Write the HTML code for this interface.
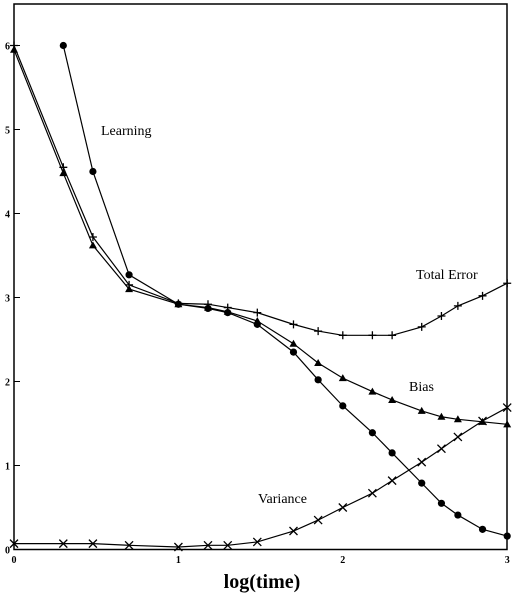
<!DOCTYPE html>
<html><head><meta charset="utf-8"><style>
body{margin:0;background:#fff;}
svg{display:block;font-family:"Liberation Serif",serif;}
</style></head><body>
<svg id="chart" width="529" height="594" viewBox="0 0 529 594"></svg>
<script>
const xs=[0,0.30,0.48,0.70,1.0,1.18,1.30,1.48,1.70,1.85,2.0,2.18,2.30,2.48,2.60,2.70,2.85,3.0];
const totalError=[6.0,4.55,3.72,3.15,2.93,2.92,2.88,2.82,2.68,2.60,2.55,2.55,2.55,2.65,2.78,2.90,3.02,3.17];
const bias=[5.95,4.48,3.62,3.10,2.92,2.88,2.83,2.72,2.45,2.22,2.04,1.88,1.78,1.65,1.58,1.55,1.52,1.49];
const learning=[null,6.0,4.5,3.27,2.92,2.87,2.82,2.68,2.35,2.02,1.71,1.39,1.15,0.79,0.55,0.41,0.24,0.16];
const variance=[0.07,0.07,0.07,0.05,0.03,0.05,0.05,0.09,0.22,0.35,0.50,0.67,0.82,1.04,1.20,1.34,1.53,1.69];
const xTicks=[0,1,2,3];
const yTicks=[0,1,2,3,4,5,6];
const NS="http://www.w3.org/2000/svg";
const svg=document.getElementById('chart');
const X=v=>14+v*164.4;
const Y=v=>549.5-v*84;
function mk(t,a,p){const e=document.createElementNS(NS,t);for(const k in a)e.setAttribute(k,a[k]);(p||svg).appendChild(e);return e;}
const frame=mk('rect',{x:14,y:4,width:493,height:545.5,fill:'none',stroke:'#000','stroke-width':1.5});


yTicks.forEach(v=>{
  const t=mk('line',{x1:14,x2:20,y1:Y(v),y2:Y(v),stroke:'#000','stroke-width':1});
  
  
  const l=mk('text',{x:10,y:Y(v)+4,'text-anchor':'end','font-size':10,'font-weight':'bold'});
  l.textContent=v;
  
  
});
xTicks.forEach(v=>{
  const l=mk('text',{x:X(v),y:563,'text-anchor':'middle','font-size':10,'font-weight':'bold'});
  l.textContent=v;
  
  
});
function series(vals,name,marker){
  const g=mk('g',{});
  
  
  const pts=[];vals.forEach((v,i)=>{if(v!=null)pts.push([X(xs[i]),Y(v)]);});
  mk('polyline',{points:pts.map(p=>p.join(',')).join(' '),fill:'none',stroke:'#000','stroke-width':1.2},g);
  pts.forEach(([x,y])=>{
    let m;
    if(marker==='plus'){m=mk('path',{d:`M${x-4},${y}H${x+4}M${x},${y-4}V${y+4}`,stroke:'#000','stroke-width':1.3},g);}
    else if(marker==='tri'){m=mk('path',{d:`M${x},${y-4}L${x+4},${y+3}L${x-4},${y+3}Z`,fill:'#000'},g);}
    else if(marker==='dot'){m=mk('circle',{cx:x,cy:y,r:3.6,fill:'#000'},g);}
    else {m=mk('path',{d:`M${x-4},${y-4}L${x+4},${y+4}M${x+4},${y-4}L${x-4},${y+4}`,stroke:'#000','stroke-width':1.3},g);}
    
    
  });
}
series(totalError,'total-error-series','plus');
series(bias,'bias-series','tri');
series(learning,'learning-series','dot');
series(variance,'variance-series','x');
function label(txt,x,y,name){const t=mk('text',{x:x,y:y,'font-size':14});t.textContent=txt;}
label('Learning',101,135,'learning-label');
label('Total Error',416,279,'total-error-label');
label('Bias',409,391,'bias-label');
label('Variance',258,503,'variance-label');
const xt=mk('text',{x:262,y:588,'text-anchor':'middle','font-size':20,'font-weight':'bold'});
xt.textContent='log(time)';


</script>
</body></html>
